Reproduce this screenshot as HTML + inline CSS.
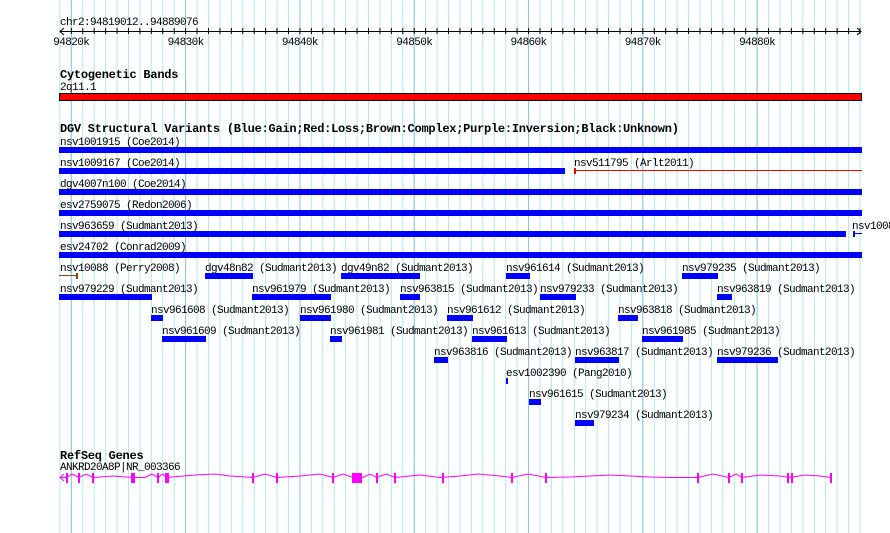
<!DOCTYPE html>
<html><head><meta charset="utf-8"><style>
html,body{margin:0;padding:0;background:#fff;width:890px;height:533px;overflow:hidden}
svg text{font-family:"Liberation Mono","DejaVu Sans Mono",monospace;font-size:11px;letter-spacing:-0.6px;fill:#000}
svg text.b{font-weight:bold;font-size:12px;letter-spacing:-0.25px}
</style></head><body>
<svg width="890" height="533" xmlns="http://www.w3.org/2000/svg">
<defs>
<pattern id="g1" patternUnits="userSpaceOnUse" x="59.4" y="0" width="11.43" height="10"><rect x="0" y="0" width="1" height="10" fill="#aee8ee"/></pattern>
<pattern id="g2" patternUnits="userSpaceOnUse" x="70.8" y="0" width="114.3" height="10"><rect x="0" y="0" width="1" height="10" fill="#86c6ea"/></pattern>
<pattern id="tk" patternUnits="userSpaceOnUse" x="59.4" y="0" width="11.43" height="10"><rect x="0" y="0" width="1" height="10" fill="#000"/></pattern>
</defs>
<rect x="59" y="0" width="803" height="533" fill="url(#g1)"/>
<rect x="59" y="0" width="803" height="533" fill="url(#g2)"/>

<text x="60" y="25">chr2:94819012..94889076</text>
<rect x="60" y="31" width="801" height="1" fill="#000"/>
<rect x="62" y="28" width="800" height="6" fill="url(#tk)"/>
<path d="M64,28 L60,31.5 L64,35" stroke="#000" fill="none"/>
<path d="M857,28 L861,31.5 L857,35" stroke="#000" fill="none"/>
<g text-anchor="middle">
<text x="71.3" y="45">94820k</text><text x="185.6" y="45">94830k</text><text x="299.9" y="45">94840k</text><text x="414.2" y="45">94850k</text><text x="528.5" y="45">94860k</text><text x="642.8" y="45">94870k</text><text x="757.1" y="45">94880k</text>
</g>

<text class="b" x="60" y="78">Cytogenetic Bands</text>
<text x="60" y="90">2q11.1</text>
<rect x="59.5" y="93.5" width="802" height="7" fill="#ff0000" stroke="#000" stroke-width="1"/>

<text class="b" x="60" y="132">DGV Structural Variants (Blue:Gain;Red:Loss;Brown:Complex;Purple:Inversion;Black:Unknown)</text>
<g fill="#0000ff">
<text x="60" y="145">nsv1001915 (Coe2014)</text><rect x="59" y="147" width="803" height="6"/>
<text x="60" y="166">nsv1009167 (Coe2014)</text><rect x="59" y="168" width="506" height="6"/>
<text x="574" y="166">nsv511795 (Arlt2011)</text>
<rect x="574" y="168" width="2" height="6" fill="#ff0000"/><rect x="575" y="170" width="287" height="1" fill="#ff0000"/>
<text x="60" y="187">dgv4007n100 (Coe2014)</text><rect x="59" y="189" width="803" height="6"/>
<text x="60" y="208">esv2759075 (Redon2006)</text><rect x="59" y="210" width="803" height="6"/>
<text x="60" y="229">nsv963659 (Sudmant2013)</text><rect x="59" y="231" width="787" height="6"/>
<text x="852" y="229">nsv1008</text><rect x="853" y="231" width="2" height="6"/><rect x="853" y="233" width="9" height="1"/>
<text x="60" y="250">esv24702 (Conrad2009)</text><rect x="59" y="252" width="803" height="6"/>

<text x="60" y="271">nsv10088 (Perry2008)</text>
<rect x="59" y="275" width="18" height="1" fill="#8b4513"/><rect x="76" y="273" width="2" height="6" fill="#8b4513"/>
<text x="205" y="271">dgv48n82 (Sudmant2013)</text><rect x="205" y="273" width="48" height="6"/>
<text x="341" y="271">dgv49n82 (Sudmant2013)</text><rect x="341" y="273" width="79" height="6"/>
<text x="506" y="271">nsv961614 (Sudmant2013)</text><rect x="506" y="273" width="24" height="6"/>
<text x="682" y="271">nsv979235 (Sudmant2013)</text><rect x="682" y="273" width="36" height="6"/>

<text x="60" y="292">nsv979229 (Sudmant2013)</text><rect x="59" y="294" width="93" height="6"/>
<text x="252" y="292">nsv961979 (Sudmant2013)</text><rect x="252" y="294" width="79" height="6"/>
<text x="400" y="292">nsv963815 (Sudmant2013)</text><rect x="400" y="294" width="20" height="6"/>
<text x="540" y="292">nsv979233 (Sudmant2013)</text><rect x="540" y="294" width="36" height="6"/>
<text x="717" y="292">nsv963819 (Sudmant2013)</text><rect x="717" y="294" width="15" height="6"/>

<text x="151" y="313">nsv961608 (Sudmant2013)</text><rect x="151" y="315" width="12" height="6"/>
<text x="300" y="313">nsv961980 (Sudmant2013)</text><rect x="300" y="315" width="31" height="6"/>
<text x="447" y="313">nsv961612 (Sudmant2013)</text><rect x="447" y="315" width="26" height="6"/>
<text x="618" y="313">nsv963818 (Sudmant2013)</text><rect x="618" y="315" width="20" height="6"/>

<text x="162" y="334">nsv961609 (Sudmant2013)</text><rect x="162" y="336" width="44" height="6"/>
<text x="330" y="334">nsv961981 (Sudmant2013)</text><rect x="330" y="336" width="12" height="6"/>
<text x="472" y="334">nsv961613 (Sudmant2013)</text><rect x="472" y="336" width="35" height="6"/>
<text x="642" y="334">nsv961985 (Sudmant2013)</text><rect x="642" y="336" width="41" height="6"/>

<text x="434" y="355">nsv963816 (Sudmant2013)</text><rect x="434" y="357" width="14" height="6"/>
<text x="575" y="355">nsv963817 (Sudmant2013)</text><rect x="575" y="357" width="44" height="6"/>
<text x="717" y="355">nsv979236 (Sudmant2013)</text><rect x="717" y="357" width="61" height="6"/>

<text x="506" y="376">esv1002390 (Pang2010)</text><rect x="506" y="378" width="2" height="6"/>
<text x="529" y="397">nsv961615 (Sudmant2013)</text><rect x="529" y="399" width="12" height="6"/>
<text x="575" y="418">nsv979234 (Sudmant2013)</text><rect x="575" y="420" width="19" height="6"/>
</g>

<text class="b" x="60" y="459">RefSeq Genes</text>
<text x="60" y="470">ANKRD20A8P|NR_003366</text>
<g stroke="#ff00ff" fill="none" stroke-width="1">
<path d="M64,474 L60,477.5 L64,481"/>
<polyline points="60,477.5 67,477.5 72,474 79,477.5 86,474 93,477.5 113,476 133,477.5 145,477.5 152,474 158,477.5 163,474 166,477.5 195,475 215,474 230,476 253,477.5 265,474 277,477.5 300,476 320,474 333,477.5 343,474 353,477.5 363,477.5 370,474 377,477.5 386,474 395,477.5 420,475 440,477.5 460,476 478,474 500,476 512,477.5 528,474 546,477.5 570,477 610,475 650,477 670,477.5 698,477.5 713,474 729,477.5 736,474 742,477.5 760,475 780,476 790,477.5 805,475 820,476 831,477.5"/>
</g>
<g fill="#ff00ff">
<rect x="66" y="473" width="2" height="10"/><rect x="78" y="473" width="2" height="10"/><rect x="92" y="473" width="2" height="10"/>
<rect x="131" y="473" width="4" height="10"/><rect x="157" y="473" width="2" height="10"/><rect x="165" y="473" width="4" height="10"/>
<rect x="252" y="473" width="2" height="10"/><rect x="276" y="473" width="2" height="10"/><rect x="332" y="473" width="2" height="10"/>
<rect x="352" y="473" width="10" height="10"/><rect x="376" y="473" width="2" height="10"/><rect x="394" y="473" width="2" height="10"/>
<rect x="442" y="473" width="2" height="10"/><rect x="511" y="473" width="2" height="10"/><rect x="545" y="473" width="2" height="10"/>
<rect x="697" y="473" width="2" height="10"/><rect x="728" y="473" width="2" height="10"/><rect x="741" y="473" width="2" height="10"/>
<rect x="787" y="473" width="2" height="10"/><rect x="791" y="473" width="2" height="10"/><rect x="830" y="473" width="2" height="10"/>
</g>
</svg>
</body></html>
